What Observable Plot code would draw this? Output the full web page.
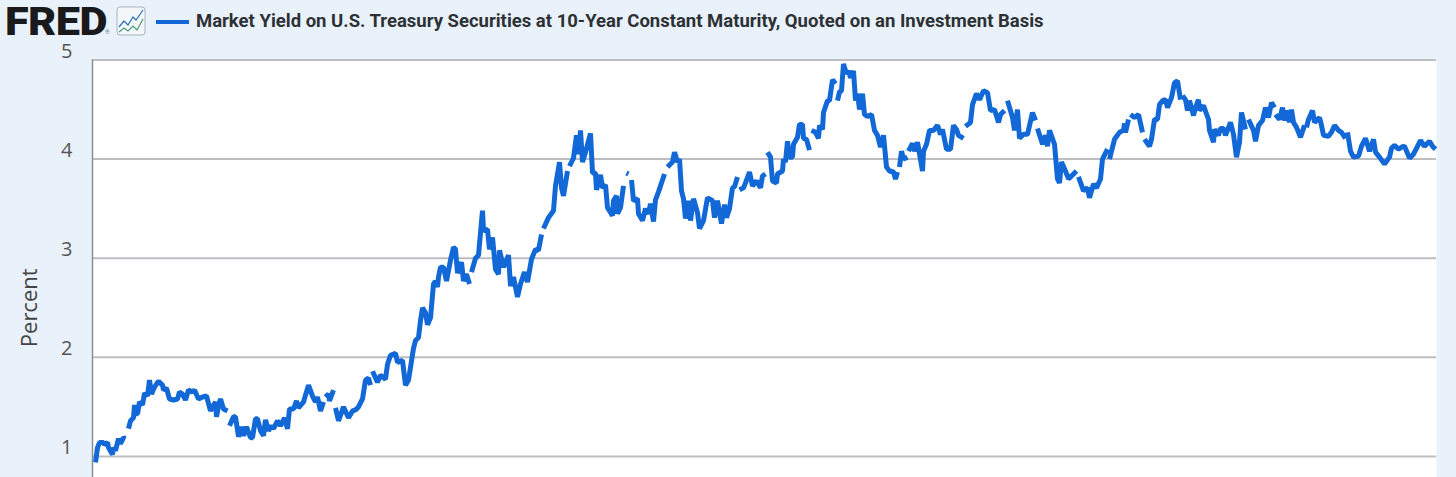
<!DOCTYPE html>
<html>
<head>
<meta charset="utf-8">
<script src="https://cdn.jsdelivr.net/npm/d3@7"></script>
<script src="https://cdn.jsdelivr.net/npm/@observablehq/plot@0.6"></script>
<style>
html,body{margin:0;padding:0;background:#e9f1fa;overflow:hidden;}
#head{position:relative;height:26px;width:1456px;}
#logo{position:absolute;left:5px;top:7px;font:900 38px/30px Roboto,sans-serif;color:#1a1a1c;letter-spacing:-.5px;transform:scaleX(1.14);transform-origin:left center;}
#reg{position:absolute;left:105px;top:28px;font:400 6px/8px Roboto,sans-serif;color:#777;}
#icon{position:absolute;left:116px;top:6px;}
#swatch{position:absolute;left:156px;top:20px;width:33px;height:4px;background:#1168d6;}
#title{position:absolute;left:196px;top:11px;font:700 18.5px/20px Roboto,sans-serif;color:#2d3135;white-space:nowrap;}
</style>
</head>
<body>
<div id="head">
  <div id="logo">FRED</div><div id="reg">®</div>
  <svg id="icon" width="30" height="30" viewBox="0 0 30 30">
    <rect x="1" y="1" width="28" height="28" rx="3" fill="#f4f7fa" stroke="#aab4bd"/>
    <polyline points="3,21 8,15 12,19 17,11 20,14 27,4" fill="none" stroke="#2a6fb5" stroke-width="1.2"/>
    <polyline points="3,26 8,22 12,25 17,20 21,24 27,13" fill="none" stroke="#4e9a7d" stroke-width="1.2"/>
  </svg>
  <div id="swatch"></div>
  <div id="title">Market Yield on U.S. Treasury Securities at 10-Year Constant Maturity, Quoted on an Investment Basis</div>
</div>
<div id="chart"></div>
<script>
const seriesName = "Market Yield on U.S. Treasury Securities at 10-Year Constant Maturity, Quoted on an Investment Basis";
const yTicks = [1, 2, 3, 4, 5];
const yLabel = "Percent";
// session index along the time axis; null marks a gap in the published series
const sessions = [
3,5,7,11,12,15,16,20,21,23,26,28,31,33,null,
36,38,41,42,43,45,47,50,52,55,57,59,62,66,70,71,74,77,81,85,87,90,93,96,100,102,106,110,114,118,120,123,124,126,128,131,135,null,
137,141,143,146,149,151,154,158,160,163,165,168,171,173,176,179,181,185,188,192,195,197,201,204,206,211,216,220,223,225,228,231,null,
233,236,237,241,null,
243,246,251,256,260,263,266,270,273,276,278,null,
280,285,288,293,295,298,303,305,310,313,316,321,323,326,328,330,333,335,338,341,343,345,346,348,351,354,358,361,363,365,369,371,374,377,null,
379,383,386,390,391,395,397,400,403,406,407,411,416,418,421,425,428,432,435,439,443,446,449,null,
451,456,461,463,467,469,471,475,null,
477,481,484,486,488,490,493,498,500,503,504,508,510,513,515,520,521,524,525,528,531,null,
534,536,null,
539,541,545,546,550,553,556,558,561,563,566,568,572,null,
575,580,582,585,587,589,591,593,596,598,601,605,607,611,615,620,622,625,629,632,634,637,640,642,645,null,
647,651,653,657,660,664,668,670,673,null,
675,678,680,684,685,690,691,693,695,697,700,701,705,707,710,711,714,717,null,
719,723,726,727,730,731,735,737,740,743,null,
745,747,749,751,754,756,758,761,763,765,767,770,772,775,779,782,785,788,791,794,797,801,803,805,null,
807,809,811,815,null,
816,820,822,825,830,831,834,837,841,845,848,850,854,858,861,864,866,871,null,
873,878,880,884,887,891,895,898,902,906,908,912,null,
915,920,922,925,927,931,935,940,943,null,
945,950,953,955,957,962,965,967,969,973,976,984,null,
986,991,995,997,1001,1004,1008,1010,1015,null,
1017,1022,1027,1031,1032,1033,1036,null,
1038,1042,1046,1050,null,
1052,1057,1059,1062,1065,1067,1070,1073,1075,1079,1082,1085,1088,null,
1090,1093,1095,1097,1101,1103,1106,1107,1111,1116,1117,1121,1122,1126,1128,1131,1133,1138,1141,1144,1147,1149,1153,null,
1156,1161,1163,1166,1170,1173,1176,1179,1182,null,
1183,1187,1190,1192,1195,1197,1199,1201,1204,1208,1212,null,
1214,1216,1220,1222,1227,1229,1231,1236,1239,1242,1246,1249,1253,null,
1255,1258,1261,1266,1269,1273,1277,1281,1283,1287,1292,1297,1299,1302,1306,1309,1312,1317,1321,1326,1328,1332,1337,1340,1343
];
const yields = [
.94,1.09,1.14,1.14,1.12,1.14,1.09,1.02,1.09,1.06,1.18,1.13,1.19,1.18,null,
1.28,1.36,1.39,1.52,1.43,1.43,1.55,1.52,1.64,1.61,1.77,1.63,1.70,1.76,1.72,1.67,1.69,1.58,1.57,1.58,1.65,1.63,1.57,1.67,1.65,1.67,1.58,1.6,1.61,1.46,1.5,1.55,1.40,1.51,1.58,1.48,1.46,null,
1.31,1.40,1.40,1.2,1.3,1.21,1.3,1.19,1.19,1.38,1.38,1.26,1.21,1.37,1.26,1.31,1.28,1.36,1.31,1.39,1.28,1.48,1.48,1.56,1.49,1.55,1.72,1.61,1.55,1.6,1.46,1.55,null,
1.6,1.63,1.56,1.67,null,
1.49,1.36,1.5,1.39,1.46,1.47,1.5,1.58,1.77,1.79,1.72,null,
1.86,1.75,1.82,1.78,1.93,2.02,2.04,1.95,1.97,1.72,1.77,2.09,2.17,2.2,2.37,2.50,2.45,2.33,2.40,2.74,2.77,2.71,2.81,2.91,2.91,2.77,2.98,3.11,3.09,2.85,2.96,2.77,2.84,2.74,null,
2.86,3.0,3.03,3.48,3.28,3.29,3.09,3.21,2.89,2.84,3.08,2.91,3.03,2.72,2.81,2.61,2.74,2.86,2.76,2.99,3.09,3.08,3.24,null,
3.3,3.41,3.48,3.73,3.97,3.71,3.63,3.88,null,
3.93,4.01,4.24,4.05,4.29,3.97,4.07,4.26,3.86,3.86,3.69,3.84,3.71,3.74,3.51,3.43,3.58,3.63,3.45,3.51,3.73,null,
3.86,3.85,null,
3.79,3.58,3.6,3.45,3.38,3.5,3.45,3.55,3.37,3.59,3.67,3.73,3.85,null,
3.92,3.97,4.07,3.97,4.0,3.68,3.6,3.4,3.58,3.38,3.6,3.46,3.3,3.38,3.61,3.58,3.41,3.58,3.35,3.54,3.41,3.5,3.71,3.72,3.82,null,
3.69,3.71,3.76,3.87,3.73,3.78,3.71,3.83,3.85,null,
4.07,4.02,3.78,3.76,3.85,3.88,4.0,3.97,4.18,4.02,4.02,4.15,4.22,4.35,4.35,4.21,4.2,4.09,null,
4.29,4.27,4.21,4.34,4.3,4.47,4.59,4.59,4.8,4.76,null,
4.59,4.68,4.69,4.96,4.86,4.89,4.82,4.89,4.59,4.66,4.5,4.66,4.45,4.43,4.45,4.29,4.24,4.12,4.24,3.92,3.88,3.87,3.8,3.87,null,
3.92,4.08,4.0,4.02,null,
4.08,4.16,4.08,4.17,3.88,4.08,4.15,4.29,4.29,4.34,4.25,4.3,4.1,4.1,4.34,4.3,4.24,4.21,null,
4.33,4.37,4.55,4.66,4.6,4.69,4.67,4.49,4.5,4.37,4.45,4.49,null,
4.59,4.42,4.29,4.5,4.21,4.25,4.25,4.47,4.39,null,
4.31,4.15,4.24,4.13,4.29,4.15,3.8,3.76,3.97,3.88,3.8,3.88,null,
3.82,3.68,3.71,3.61,3.75,3.71,3.8,4.0,4.1,null,
4.0,4.2,4.27,4.29,4.36,4.27,4.4,null,
4.45,4.42,4.45,4.27,null,
4.2,4.13,4.2,4.4,4.4,4.55,4.59,4.6,4.52,4.62,4.77,4.79,4.6,null,
4.64,4.6,4.49,4.59,4.44,4.52,4.6,4.49,4.54,4.4,4.29,4.17,4.3,4.24,4.31,4.31,4.24,4.37,4.25,4.02,4.17,4.47,4.3,null,
4.4,4.29,4.18,4.34,4.39,4.52,4.42,4.57,4.52,null,
4.45,4.4,4.52,4.39,4.49,4.37,4.5,4.37,4.32,4.22,4.34,null,
4.32,4.4,4.49,4.37,4.42,4.34,4.24,4.23,4.27,4.34,4.29,4.27,4.21,null,
4.27,4.08,4.02,4.03,4.13,4.21,4.08,4.2,4.07,4.02,3.95,4.02,4.11,4.14,4.1,4.12,4.13,4.01,4.05,4.15,4.19,4.13,4.18,4.13,4.1
];

const chart = Plot.plot({
  width: 1456,
  height: 451,
  marginLeft: 92,
  marginRight: 20,
  marginTop: 33.5,
  marginBottom: 0,
  style: {background: "transparent", fontFamily: "'Open Sans', sans-serif"},
  x: {domain: [0, 1344], axis: null},
  y: {domain: [0.788, 5]},
  marks: [
    Plot.frame({fill: "white", stroke: "none"}),
    Plot.ruleY(yTicks, {stroke: "#bdbdc2", strokeWidth: 2}),
    Plot.ruleX([0], {stroke: "#8c8f94", strokeWidth: 1.5}),
    Plot.axisY({ticks: yTicks, tickFormat: "d", tickSize: 0, tickPadding: 20, dy: -8.5, fontSize: 20, color: "#555", label: null}),
    Plot.text([yLabel], {x: [0], y: [2.5], dx: -63, rotate: -90, fontSize: 22, fill: "#444", textAnchor: "middle"}),
    Plot.line(yields, {x: sessions, y: yields, stroke: "#1168d6", strokeWidth: 5, strokeLinejoin: "miter", strokeLinecap: "butt", title: () => seriesName})
  ]
});
document.getElementById("chart").append(chart);
</script>
</body>
</html>
